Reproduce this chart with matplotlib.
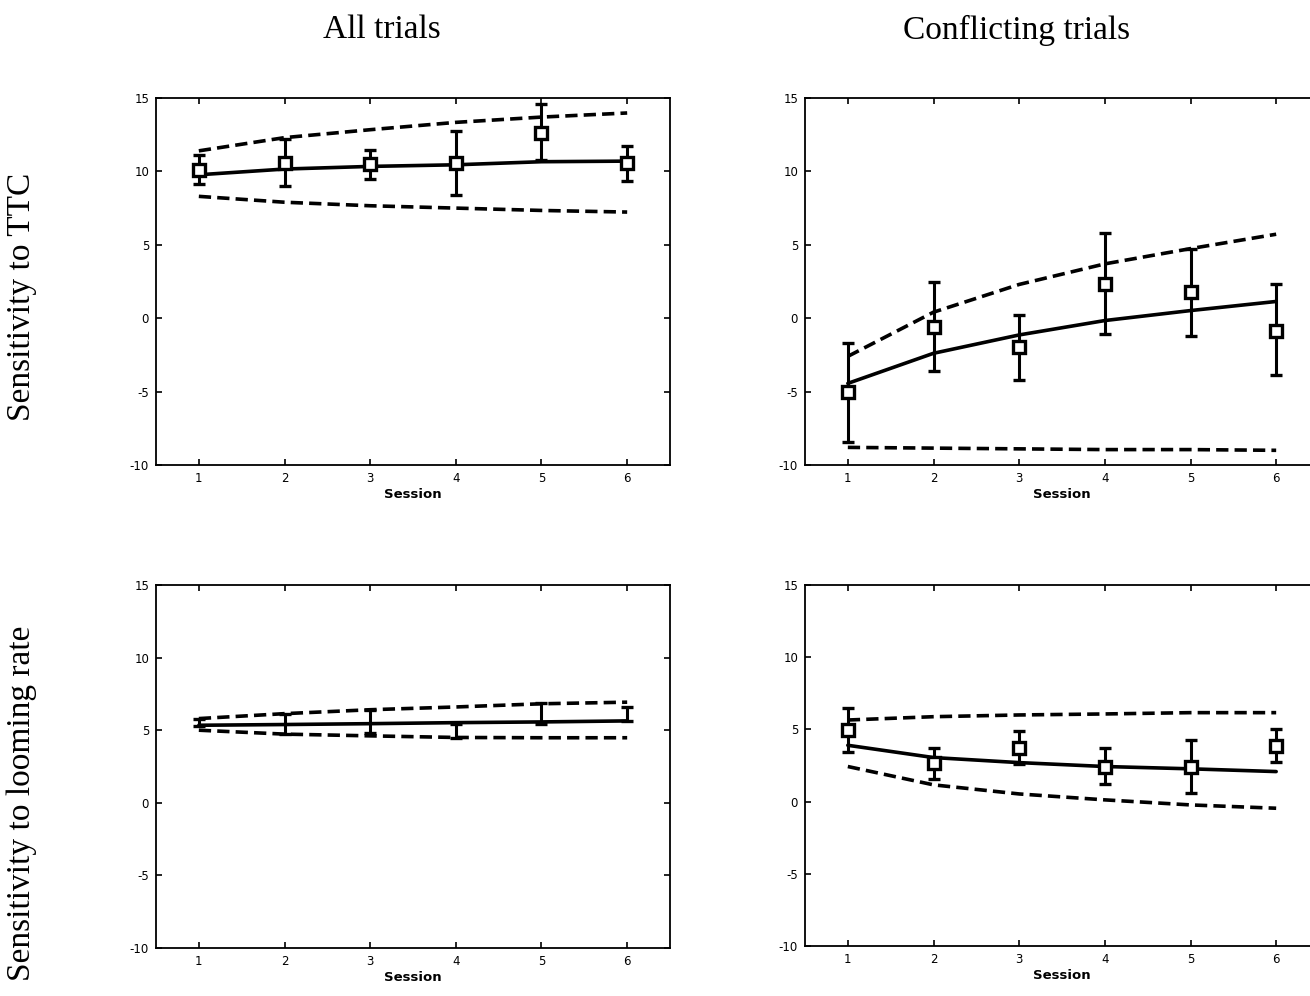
import matplotlib
matplotlib.use("Agg")
import matplotlib.pyplot as plt
import numpy as np

sessions = [1, 2, 3, 4, 5, 6]

# Top-left: All trials, sensitivity to TTC
tl_mean = [10.1, 10.57, 10.52, 10.57, 12.6, 10.57]
tl_lo = [9.16, 8.98, 9.5, 8.4, 10.75, 9.36]
tl_hi = [11.1, 12.2, 11.48, 12.73, 14.6, 11.75]
tl_fit = [9.77, 10.16, 10.34, 10.45, 10.66, 10.7]
tl_up = [11.4, 12.3, 12.84, 13.34, 13.7, 13.98]
tl_dn = [8.3, 7.9, 7.66, 7.5, 7.34, 7.23]

# Top-right: Conflicting trials, sensitivity to TTC
tr_mean = [-5.0, -0.6, -1.98, 2.35, 1.78, -0.89]
tr_lo = [-8.45, -3.6, -4.2, -1.07, -1.18, -3.9]
tr_hi = [-1.67, 2.5, 0.25, 5.83, 4.74, 2.3]
tr_fit = [-4.44, -2.39, -1.14, -0.16, 0.52, 1.14]
tr_up = [-2.6, 0.41, 2.3, 3.7, 4.74, 5.72]
tr_dn = [-8.8, -8.85, -8.9, -8.95, -8.95, -9.0]

# Bottom-left: All trials, sensitivity to looming rate
bl_mean = [5.52, 5.45, 5.62, 4.94, 6.13, 6.1]
bl_lo = [5.27, 4.77, 4.84, 4.43, 5.43, 5.66]
bl_hi = [5.8, 6.14, 6.4, 5.45, 6.84, 6.57]
bl_fit = [5.34, 5.39, 5.45, 5.52, 5.57, 5.64]
bl_up = [5.8, 6.14, 6.41, 6.6, 6.82, 6.93]
bl_dn = [5.0, 4.73, 4.61, 4.5, 4.48, 4.48]

# Bottom-right: Conflicting trials, sensitivity to looming rate
br_mean = [4.95, 2.7, 3.74, 2.43, 2.43, 3.88]
br_lo = [3.45, 1.55, 2.6, 1.2, 0.62, 2.72]
br_hi = [6.46, 3.74, 4.9, 3.7, 4.28, 5.02]
br_fit = [3.9, 3.05, 2.7, 2.43, 2.27, 2.08]
br_up = [5.65, 5.88, 6.0, 6.07, 6.16, 6.16]
br_dn = [2.43, 1.16, 0.53, 0.12, -0.23, -0.46]

col_titles = ["All trials", "Conflicting trials"]
row_labels = ["Sensitivity to TTC", "Sensitivity to looming rate"]
yticks = [-10, -5, 0, 5, 10, 15]
ytick_labels = ["-10", "-5", "0", "5", "10", "15"]

W, H = 1310, 996
fig = plt.figure(figsize=(W / 100, H / 100), dpi=100)
fig.patch.set_facecolor("white")

def px_axes(l, t, r, b):
    return fig.add_axes([l / W, 1 - b / H, (r - l) / W, (b - t) / H])

positions = {
    (0, 0): (156, 98, 670, 465),
    (0, 1): (805, 98, 1319, 465),
    (1, 0): (156, 585, 670, 948),
    (1, 1): (805, 585, 1319, 946),
}

panels = {
    (0, 0): (tl_mean, tl_lo, tl_hi, tl_fit, tl_up, tl_dn, True),
    (0, 1): (tr_mean, tr_lo, tr_hi, tr_fit, tr_up, tr_dn, True),
    (1, 0): (bl_mean, bl_lo, bl_hi, bl_fit, bl_up, bl_dn, False),
    (1, 1): (br_mean, br_lo, br_hi, br_fit, br_up, br_dn, True),
}

for key, (mean, lo, hi, fit, up, dn, show_marker) in panels.items():
    ax = px_axes(*positions[key])
    m = np.array(mean)
    yerr = [m - np.array(lo), np.array(hi) - m]
    ax.plot(sessions, fit, color="black", lw=2.6, solid_capstyle="round", zorder=3)
    ax.plot(sessions, up, color="black", lw=2.6, ls=(0, (3.4, 1.7)), zorder=2)
    ax.plot(sessions, dn, color="black", lw=2.6, ls=(0, (3.4, 1.7)), zorder=2)
    ax.errorbar(sessions, mean, yerr=yerr, fmt="s" if show_marker else "none",
                mfc="white", mec="black", mew=2.4, ms=9, ecolor="black",
                elinewidth=2.2, capsize=4, capthick=2.2, zorder=4)
    ax.set_xlim(0.5, 6.5)
    ax.set_ylim(-10, 15)
    ax.set_xticks(sessions)
    ax.set_yticks(yticks)
    ax.set_yticklabels(ytick_labels)
    ax.tick_params(direction="in", top=True, right=True, length=4, width=1.2,
                   labelsize=8.5, pad=5)
    for s in ax.spines.values():
        s.set_linewidth(1.3)
    ax.set_xlabel("Session", fontsize=9.5, fontweight="bold", labelpad=2)

serif = ["Liberation Serif", "DejaVu Serif"]
fig.text(382 / W, 1 - 30 / H, col_titles[0], ha="center", va="center",
         fontsize=24, family=serif)
fig.text(1017 / W, 1 - 30 / H, col_titles[1], ha="center", va="center",
         fontsize=24, family=serif)
fig.text(22 / W, 1 - 297 / H, row_labels[0], ha="center", va="center",
         rotation=90, fontsize=24, family=serif)
fig.text(22 / W, 1 - 803 / H, row_labels[1], ha="center", va="center",
         rotation=90, fontsize=24, family=serif)

fig.savefig("out.png", dpi=100)
